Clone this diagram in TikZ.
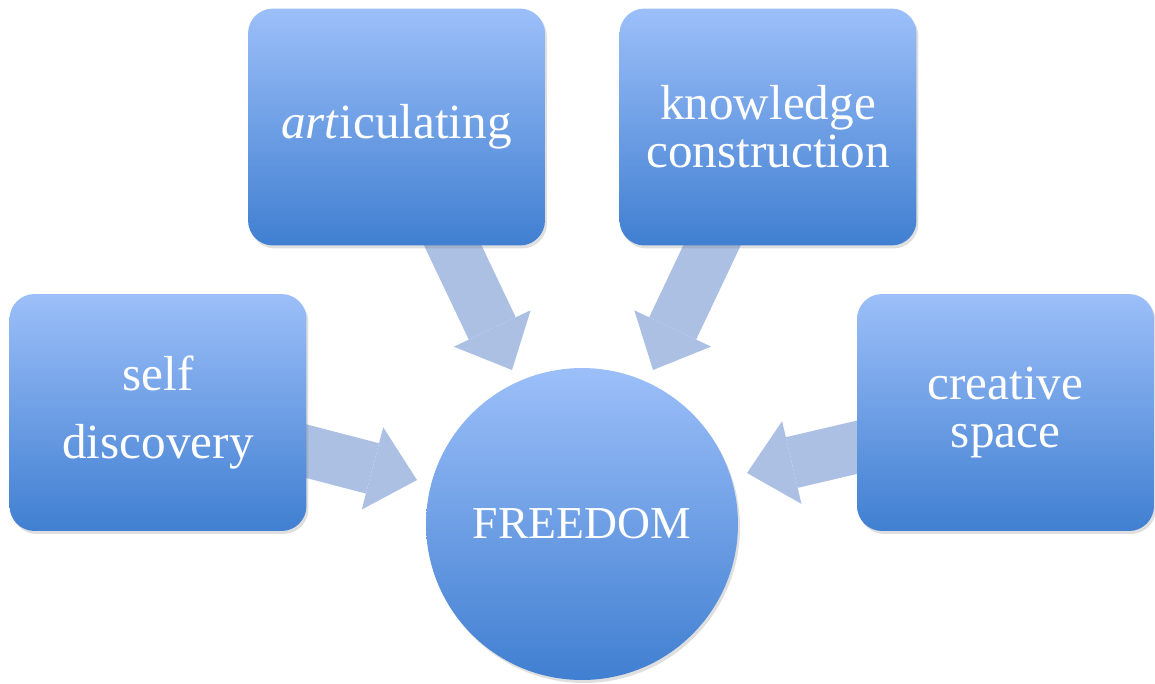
\documentclass[tikz,border=0pt]{standalone}
\usepackage{fontspec}
\setmainfont{Liberation Serif}
\usetikzlibrary{arrows.meta, shadows, backgrounds}

\definecolor{boxtop}{RGB}{156,191,249}
\definecolor{boxmiddle}{RGB}{124,166,236}
\definecolor{boxbottom}{RGB}{64,127,209}
\definecolor{arrowblue}{RGB}{172,192,228}

\tikzset{
  idea/.style={rectangle, rounded corners=0.5cm, minimum width=5.94cm, minimum height=4.74cm,
    inner sep=0pt, top color=boxtop, middle color=boxmiddle, bottom color=boxbottom,
    text=white, align=center, font=\fontsize{28}{27.5}\selectfont,
    drop shadow={shadow xshift=0.04cm, shadow yshift=-0.06cm, opacity=0.25}},
  hub/.style={circle, minimum size=6.24cm, inner sep=0pt, top color=boxtop,
    middle color=boxmiddle, bottom color=boxbottom,
    text=white, font=\fontsize{26}{26}\selectfont,
    drop shadow={shadow xshift=0.04cm, shadow yshift=-0.06cm, opacity=0.25}},
  flowarrow/.style={draw=arrowblue, line width=1.04cm,
    -{Triangle[length=0.92cm, width=1.7cm, line width=0pt]}}
}

\begin{document}
\begin{tikzpicture}[x=0.02cm, y=-0.02cm]
  \useasboundingbox (0,0) rectangle (1155,683);

  % Centre
  \node[hub] (freedom) at (582,524) {FREEDOM};

  % Boxes
  \node[idea] (art) at (396.5,127) {\textit{art}iculating};
  \node[idea] (know) at (768,127) {knowledge\\construction};
  \node[idea] (self) at (158,412.5) {self\\[11pt]discovery};
  \node[idea] (crea) at (1005.5,412.5) {creative\\space};

  % Arrow tips
  \coordinate (artTip) at (512,370);
  \coordinate (knowTip) at (653,370);
  \coordinate (selfTip) at (417,480);
  \coordinate (creaTip) at (747,473);

  % Arrows
  \begin{scope}[on background layer]
    \draw[flowarrow] (art.center) -- (artTip);
    \draw[flowarrow] (know.center) -- (knowTip);
    \draw[flowarrow] (self.center) -- (selfTip);
    \draw[flowarrow] (crea.center) -- (creaTip);
  \end{scope}
\end{tikzpicture}
\end{document}
